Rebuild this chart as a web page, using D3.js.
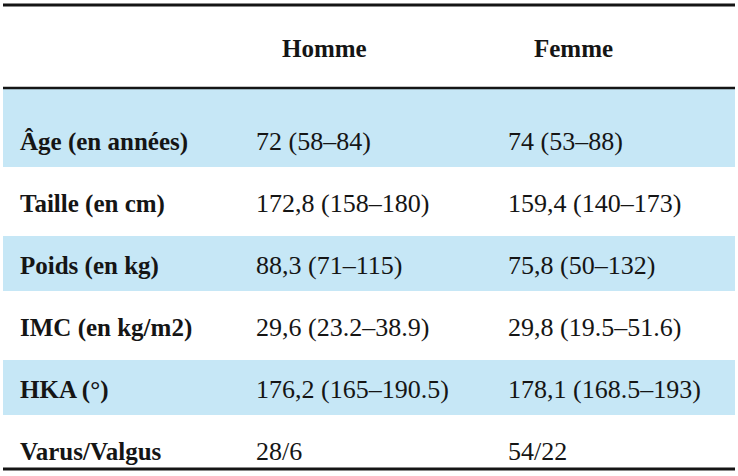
<!DOCTYPE html>
<html>
<head>
<meta charset="utf-8">
<script src="https://cdn.jsdelivr.net/npm/d3@7"></script>
<style>
  body { margin: 0; background: #fff; }
  text { font-family: 'Liberation Serif', 'DejaVu Serif', 'Times New Roman', serif; }
</style>
</head>
<body>
<div id="table-chart"></div>
<script>
const columns = ['Homme', 'Femme'];
const rowLabels = ['Âge (en années)', 'Taille (en cm)', 'Poids (en kg)', 'IMC (en kg/m2)', 'HKA (°)', 'Varus/Valgus'];
const hommeValues = ['72 (58–84)', '172,8 (158–180)', '88,3 (71–115)', '29,6 (23.2–38.9)', '176,2 (165–190.5)', '28/6'];
const femmeValues = ['74 (53–88)', '159,4 (140–173)', '75,8 (50–132)', '29,8 (19.5–51.6)', '178,1 (168.5–193)', '54/22'];
const shadedRows = [0, 2, 4];

const width = 738, height = 476;
const svg = d3.select('#table-chart').append('svg')
    .attr('width', width)
    .attr('height', height);

const ink = '#151515';

const x = d3.scaleOrdinal()
    .domain(['label', ...columns])
    .range([20, 256, 508]);

const y = d3.scaleBand()
    .domain(rowLabels)
    .range([110, 482])
    .padding(0);

const headerRule = 88;

// shaded bands
shadedRows.forEach(i => {
    const top = i === 0 ? headerRule : y(rowLabels[i]) + 2;
    const bottom = y(rowLabels[i]) + y.bandwidth() - 5;
    svg.append('rect')
        .attr('x', 3)
        .attr('y', top)
        .attr('width', width - 6)
        .attr('height', bottom - top)
        .attr('fill', '#c6e7f6');
});

// rules
[[5, 3], [headerRule, 2.5], [469, 3]].forEach(([ry, w]) => {
    svg.append('line')
        .attr('x1', 3).attr('x2', width - 3)
        .attr('y1', ry).attr('y2', ry)
        .attr('stroke', ink)
        .attr('stroke-width', w);
});

// header
columns.forEach(c => {
    svg.append('text')
        .attr('x', x(c) + 26)
        .attr('y', 48)
        .attr('dy', '0.35em')
        .attr('fill', ink)
        .attr('font-size', '25px')
        .attr('font-weight', '700')
        .text(c);
});

rowLabels.forEach((label, i) => {
    const cy = y(label) + y.bandwidth() / 2;
    svg.append('text')
        .attr('x', x('label'))
        .attr('y', cy)
        .attr('dy', '0.35em')
        .attr('fill', ink)
        .attr('font-size', '25px')
        .attr('font-weight', '700')
        .text(label);
    [hommeValues[i], femmeValues[i]].forEach((v, j) => {
        svg.append('text')
            .attr('x', x(columns[j]))
            .attr('y', cy)
            .attr('dy', '0.35em')
            .attr('fill', ink)
            .attr('font-size', '26px')
            .text(v);
    });
});
</script>
</body>
</html>
